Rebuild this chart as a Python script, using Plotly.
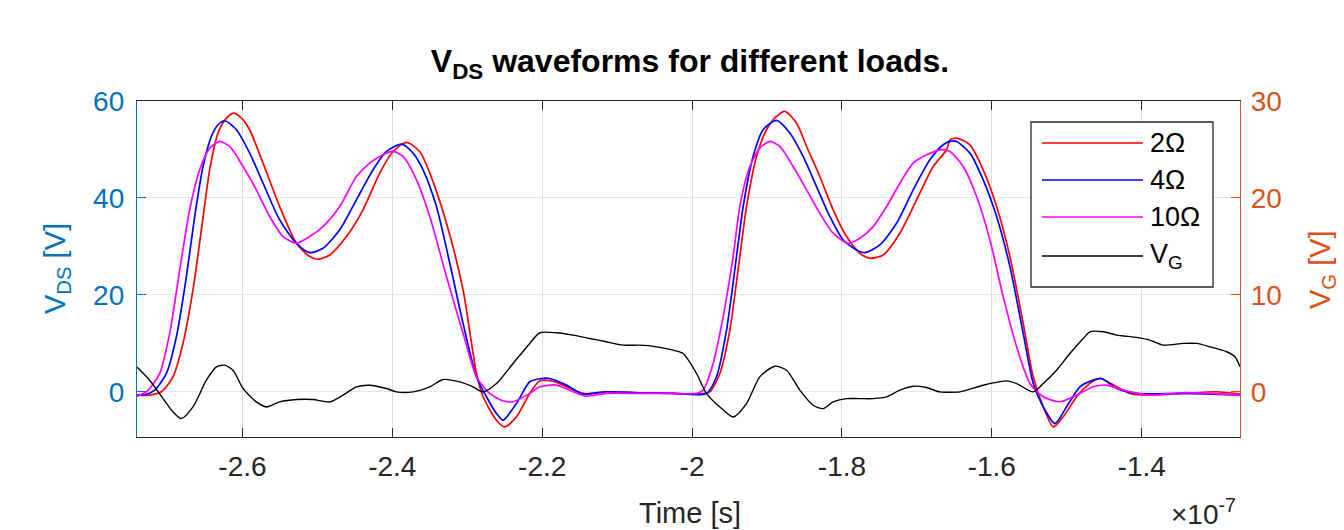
import plotly.graph_objects as go

# ---------------- data (time in units of 1e-7 s) ----------------
t_2ohm = [-2.7407, -2.7238, -2.7082, -2.6927, -2.6793, -2.6660, -2.6548, -2.6437, -2.6326, -2.6214,
          -2.6113, -2.5992, -2.5903, -2.5725, -2.5503, -2.5280, -2.5102, -2.4991, -2.4835, -2.4612,
          -2.4391, -2.4168, -2.3990, -2.3811, -2.3634, -2.3500, -2.3277, -2.3056, -2.2877, -2.2789,
          -2.2610, -2.2499, -2.2343, -2.2166, -2.2032, -2.1855, -2.1676, -2.1454, -2.1142, -2.0697,
          -2.0253, -1.9896, -1.9763, -1.9629, -1.9496, -1.9363, -1.9273, -1.9140, -1.9006, -1.8873,
          -1.8762, -1.8606, -1.8472, -1.8295, -1.8117, -1.7938, -1.7761, -1.7627, -1.7450, -1.7227,
          -1.7004, -1.6782, -1.6603, -1.6559, -1.6470, -1.6292, -1.6115, -1.5936, -1.5758, -1.5581,
          -1.5447, -1.5314, -1.5180, -1.5047, -1.4868, -1.4691, -1.4557, -1.4334, -1.4157, -1.3890,
          -1.3445, -1.3000, -1.2689]
v_2ohm = [-0.66, -0.66, 0.03, 3.12, 10.01, 21.03, 33.42, 45.81, 53.38, 56.48,
          57.51, 56.13, 54.07, 47.18, 38.23, 30.66, 27.91, 27.36, 28.25, 32.04,
          37.55, 45.12, 49.59, 51.45, 49.59, 45.12, 34.79, 21.03, 3.81, -1.00,
          -5.83, -7.20, -5.14, -0.31, 2.30, 2.20, 1.06, -0.31, 0.03, -0.20,
          -0.31, -0.45, 0.03, 3.81, 12.76, 27.91, 38.23, 48.56, 54.07, 56.82,
          57.86, 55.45, 50.62, 44.43, 37.55, 32.04, 28.60, 27.57, 28.25, 32.73,
          39.61, 46.49, 49.94, 52.00, 52.35, 50.97, 45.81, 38.23, 27.91, 14.14,
          3.12, -3.07, -7.20, -5.14, -1.00, 1.75, 2.77, 1.06, -0.31, -0.66,
          -0.31, 0.03, -0.45]

t_4ohm = [-2.7407, -2.7282, -2.7171, -2.7015, -2.6881, -2.6748, -2.6637, -2.6526, -2.6414, -2.6326,
          -2.6237, -2.6081, -2.5903, -2.5725, -2.5503, -2.5280, -2.5102, -2.4925, -2.4702, -2.4479,
          -2.4257, -2.4078, -2.3878, -2.3723, -2.3590, -2.3411, -2.3233, -2.3056, -2.2877, -2.2744,
          -2.2610, -2.2522, -2.2343, -2.2166, -2.2009, -2.1899, -2.1676, -2.1454, -2.1142, -2.0697,
          -2.0253, -1.9807, -1.9674, -1.9540, -1.9407, -1.9318, -1.9185, -1.9052, -1.8873, -1.8695,
          -1.8518, -1.8339, -1.8161, -1.7984, -1.7805, -1.7694, -1.7494, -1.7271, -1.7049, -1.6826,
          -1.6649, -1.6559, -1.6470, -1.6292, -1.6115, -1.5936, -1.5758, -1.5581, -1.5447, -1.5314,
          -1.5158, -1.5002, -1.4824, -1.4647, -1.4535, -1.4334, -1.4067, -1.3445, -1.2689]
v_4ohm = [-0.66, -0.52, 0.37, 3.81, 11.39, 23.78, 36.17, 46.49, 52.69, 55.10,
          55.93, 54.07, 49.25, 43.05, 35.48, 30.66, 28.73, 29.62, 33.42, 39.61,
          45.81, 49.59, 51.11, 49.25, 45.81, 38.23, 26.53, 14.14, 3.12, -1.00,
          -4.45, -5.83, -2.38, 2.09, 2.77, 2.77, 1.40, -0.45, 0.03, -0.17,
          -0.31, -0.31, 3.12, 12.76, 27.91, 38.23, 48.56, 54.07, 56.00, 53.38,
          48.56, 42.36, 36.17, 31.35, 29.28, 28.73, 30.32, 34.79, 41.68, 47.87,
          50.97, 51.66, 51.66, 49.25, 43.74, 36.17, 25.85, 12.08, 1.75, -3.07,
          -6.51, -3.07, 1.06, 2.44, 2.77, 0.72, -0.31, -0.31, -0.66]

t_10ohm = [-2.7407, -2.7282, -2.7104, -2.6971, -2.6837, -2.6704, -2.6570, -2.6437, -2.6303, -2.6170,
           -2.5992, -2.5814, -2.5636, -2.5458, -2.5280, -2.5102, -2.4925, -2.4702, -2.4479, -2.4301,
           -2.4124, -2.3990, -2.3857, -2.3678, -2.3500, -2.3277, -2.3056, -2.2877, -2.2700, -2.2522,
           -2.2389, -2.2166, -2.2032, -2.1809, -2.1588, -2.1409, -2.1142, -2.0697, -2.0253, -1.9940,
           -1.9852, -1.9719, -1.9585, -1.9452, -1.9363, -1.9229, -1.9096, -1.8962, -1.8829, -1.8651,
           -1.8472, -1.8295, -1.8117, -1.7917, -1.7761, -1.7583, -1.7404, -1.7227, -1.7049, -1.6870,
           -1.6693, -1.6559, -1.6382, -1.6203, -1.6025, -1.5848, -1.5669, -1.5491, -1.5314, -1.5091,
           -1.4868, -1.4647, -1.4468, -1.4246, -1.3890, -1.3445, -1.2689]
v_10ohm = [-0.87, 0.03, 3.81, 12.08, 25.16, 37.55, 45.81, 50.28, 51.66, 50.62,
           46.49, 41.68, 36.17, 32.04, 30.66, 32.04, 34.10, 38.23, 44.43, 47.18,
           48.90, 49.59, 48.56, 43.74, 36.17, 23.78, 12.08, 3.12, -0.31, -1.83,
           -2.03, -0.31, 1.06, 1.40, 0.03, -0.87, -0.31, -0.31, -0.31, -0.31,
           0.37, 5.86, 15.52, 27.91, 38.23, 46.49, 50.28, 51.66, 50.62, 46.49,
           41.68, 36.86, 32.73, 30.66, 31.69, 34.10, 38.23, 43.05, 47.18, 48.90,
           49.94, 49.60, 46.49, 40.30, 31.35, 19.65, 9.32, 1.75, -1.00, -2.03,
           -0.66, 1.06, 1.40, 0.37, -0.66, -0.17, -0.66]

t_vg = [-2.7407, -2.7238, -2.7060, -2.6927, -2.6815, -2.6660, -2.6481, -2.6347, -2.6237, -2.6126,
        -2.5992, -2.5814, -2.5680, -2.5503, -2.5280, -2.5058, -2.4835, -2.4658, -2.4479, -2.4301,
        -2.4078, -2.3945, -2.3723, -2.3500, -2.3323, -2.3100, -2.2922, -2.2789, -2.2610, -2.2389,
        -2.2166, -2.2032, -2.1809, -2.1588, -2.1365, -2.1142, -2.0920, -2.0697, -2.0474, -2.0253,
        -2.0119, -1.9940, -1.9807, -1.9629, -1.9452, -1.9273, -1.9096, -1.8895, -1.8739, -1.8562,
        -1.8384, -1.8251, -1.8117, -1.7938, -1.7761, -1.7583, -1.7404, -1.7227, -1.7049, -1.6870,
        -1.6693, -1.6426, -1.6336, -1.6115, -1.5981, -1.5803, -1.5669, -1.5447, -1.5314, -1.5136,
        -1.4958, -1.4780, -1.4691, -1.4513, -1.4334, -1.4067, -1.3890, -1.3712, -1.3445, -1.3267,
        -1.3089, -1.2866, -1.2755, -1.2689]
vg = [2.58, 1.21, -0.69, -2.06, -2.75, -1.55, 1.21, 2.58, 2.76, 2.24,
      0.35, -1.03, -1.55, -1.03, -0.79, -0.79, -1.03, -0.34, 0.52, 0.69,
      0.35, 0.00, 0.00, 0.52, 1.28, 1.03, 0.52, 0.00, 0.86, 2.93,
      5.00, 6.10, 6.10, 5.86, 5.51, 5.17, 4.82, 4.82, 4.65, 4.31,
      3.96, 1.90, -0.17, -1.55, -2.58, -1.20, 1.55, 2.65, 2.24, 0.18,
      -1.38, -1.72, -1.03, -0.69, -0.69, -0.69, -0.52, 0.18, 0.59, 0.45,
      0.00, 0.00, 0.18, 0.69, 0.93, 1.14, 0.86, 0.00, 0.86, 2.24,
      3.96, 5.51, 6.20, 6.20, 5.86, 5.62, 5.34, 4.82, 5.00, 5.00,
      4.65, 4.14, 3.62, 2.59]

series_names = ["2Ω", "4Ω", "10Ω", "V<sub>G</sub>"]
series_colors = ["#FF0000", "#0000FF", "#FF00FF", "#000000"]

x_range = [-2.7407, -1.2688]
x_ticks = [-2.6, -2.4, -2.2, -2.0, -1.8, -1.6, -1.4]
x_ticktext = ["-2.6", "-2.4", "-2.2", "-2", "-1.8", "-1.6", "-1.4"]
y_range = [-9.3, 60]
y_ticks = [0, 20, 40, 60]
y2_range = [-4.65, 30]
y2_ticks = [0, 10, 20, 30]

# ---------------- styling ----------------
BLUE_AX = "#0072BD"
ORANGE_AX = "#D95319"
DARK = "#262626"
FONT = "Liberation Sans, Arial, Helvetica, sans-serif"
W, H = 1344, 530
L, R, T, B = 137, 104, 101, 93
PW, PH = W - L - R, H - T - B


def px(x):
    return (x - L) / PW


def py(y):
    return (H - B - y) / PH


fig = go.Figure()
data_sets = [(t_2ohm, v_2ohm, "y"), (t_4ohm, v_4ohm, "y"), (t_10ohm, v_10ohm, "y"), (t_vg, vg, "y2")]
for (tx, vy, ax), name, col in zip(data_sets, series_names, series_colors):
    fig.add_trace(go.Scatter(
        x=tx, y=vy, yaxis=ax, mode="lines", name=name,
        line=dict(color=col, width=1.7 if ax == "y" else 1.4, shape="spline", smoothing=0.7),
    ))

# custom legend (MATLAB-style long line samples)
shapes = [dict(type="rect", xref="paper", yref="paper",
               x0=px(1031), x1=px(1213), y0=py(287), y1=py(122),
               line=dict(color=DARK, width=1.3), fillcolor="white", layer="above")]
annotations = []
row_y = [143, 180, 217, 256]
for name, col, ry in zip(series_names, series_colors, row_y):
    shapes.append(dict(type="line", xref="paper", yref="paper",
                       x0=px(1042), x1=px(1143), y0=py(ry), y1=py(ry),
                       line=dict(color=col, width=1.7), layer="above"))
    annotations.append(dict(text=name, xref="paper", yref="paper", x=px(1148), y=py(ry),
                            xanchor="left", yanchor="middle", showarrow=False,
                            font=dict(size=27, color="#000000", family=FONT)))

# axis titles
annotations += [
    dict(text="V<sub>DS</sub> [V]", xref="paper", yref="paper", x=px(57), y=py(269), textangle=-90,
         xanchor="center", yanchor="middle", showarrow=False, font=dict(size=29, color=BLUE_AX)),
    dict(text="V<sub>G</sub> [V]", xref="paper", yref="paper", x=px(1322), y=py(270), textangle=-90,
         xanchor="center", yanchor="middle", showarrow=False, font=dict(size=29, color=ORANGE_AX)),
    dict(text="Time [s]", xref="paper", yref="paper", x=px(690), y=py(513),
         xanchor="center", yanchor="middle", showarrow=False, font=dict(size=29, color=DARK)),
    dict(text="×10<sup>-7</sup>", xref="paper", yref="paper", x=px(1238), y=py(512),
         xanchor="right", yanchor="middle", showarrow=False, font=dict(size=28, color=DARK)),
]

fig.update_layout(
    width=W, height=H, margin=dict(l=L, r=R, t=T, b=B),
    paper_bgcolor="white", plot_bgcolor="white", showlegend=False,
    font=dict(family=FONT, color=DARK),
    title=dict(text="<b>V<sub>DS</sub> waveforms for different loads.</b>",
               x=px(690), xref="paper", xanchor="center",
               y=1 - 61 / H, yref="container", yanchor="middle",
               font=dict(size=32, color="#000000", family=FONT)),
    xaxis=dict(range=x_range, tickvals=x_ticks, ticktext=x_ticktext,
               ticks="inside", ticklen=9, tickwidth=1.3, tickcolor=DARK,
               showline=True, linecolor=DARK, linewidth=1.3, mirror="ticks",
               showgrid=True, gridcolor="rgb(222,222,222)", gridwidth=1, zeroline=False,
               tickfont=dict(size=28, color=DARK), ticklabelstandoff=4),
    yaxis=dict(range=y_range, tickvals=y_ticks, ticks="inside", ticklen=9, tickwidth=1.3,
               tickcolor=BLUE_AX, showline=True, linecolor=BLUE_AX, linewidth=1.3,
               showgrid=True, gridcolor="rgb(217,234,245)", gridwidth=1, zeroline=False,
               tickfont=dict(size=28, color=BLUE_AX), ticklabelstandoff=6),
    yaxis2=dict(range=y2_range, tickvals=y2_ticks, overlaying="y", side="right",
                ticks="inside", ticklen=9, tickwidth=1.3, tickcolor=ORANGE_AX,
                showline=True, linecolor=ORANGE_AX, linewidth=1.3,
                showgrid=False, zeroline=False,
                tickfont=dict(size=28, color=ORANGE_AX), ticklabelstandoff=4),
    shapes=shapes, annotations=annotations,
)

fig.write_html(
    "out.html",
    config={"displayModeBar": False},
    post_script="document.body.style.margin='0px';document.body.style.overflow='hidden';",
)
